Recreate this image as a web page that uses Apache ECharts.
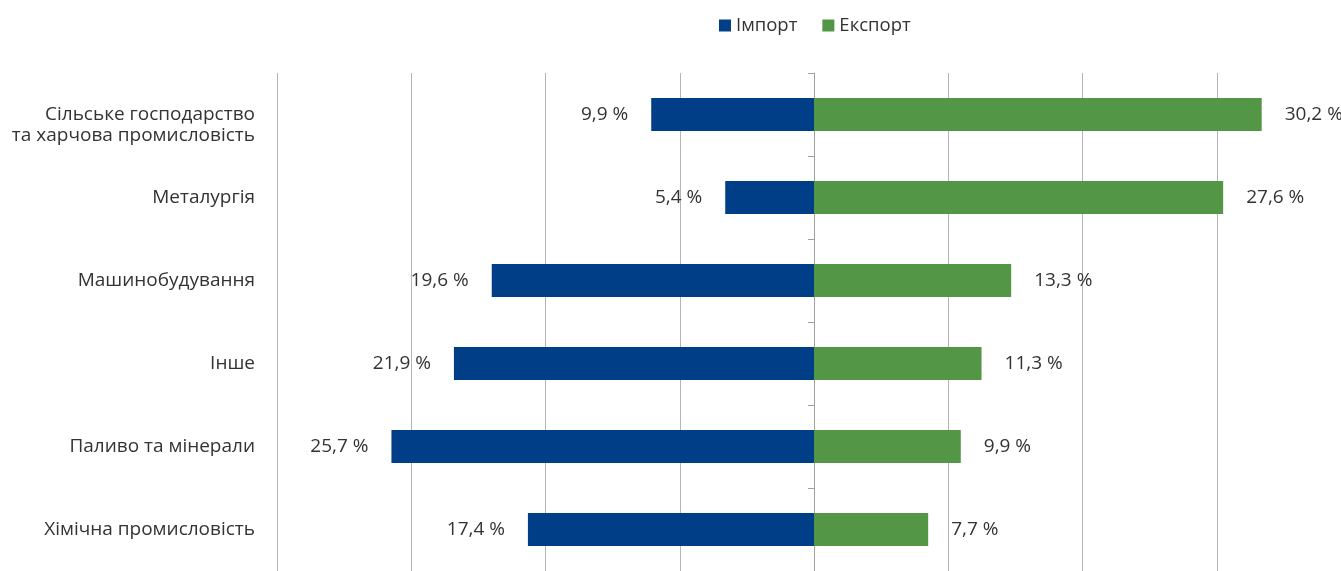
<!DOCTYPE html>
<html>
<head>
<meta charset="utf-8">
<script src="https://cdn.jsdelivr.net/npm/echarts@6/dist/echarts.min.js"></script>
<style>
html,body{margin:0;padding:0;background:#fff;}
#chart{width:1341px;height:571px;}
</style>
</head>
<body>
<div id="chart"></div>
<script>
const categories = [
  'Сільське господарство\nта харчова промисловість',
  'Металургія',
  'Машинобудування',
  'Інше',
  'Паливо та мінерали',
  'Хімічна промисловість'
];
const importValues = [9.9, 5.4, 19.6, 21.9, 25.7, 17.4];
const exportValues = [30.2, 27.6, 13.3, 11.3, 9.9, 7.7];
const seriesNames = ['Імпорт', 'Експорт'];

const FONT = '"Open Sans", "Noto Sans", sans-serif';
const TXT = '#333333';
const FS = 19;
const fmt = v => Math.abs(v).toFixed(1).replace('.', ',') + ' %';

const chart = echarts.init(document.getElementById('chart'), null, {renderer: 'canvas'});
chart.setOption({
  animation: false,
  backgroundColor: '#ffffff',
  textStyle: {fontFamily: FONT},
  legend: {
    left: 714, top: 11,
    icon: 'rect', itemWidth: 12, itemHeight: 12, itemGap: 25,
    textStyle: {fontFamily: FONT, fontSize: 18.5, color: TXT},
    data: seriesNames
  },
  grid: {left: 277, right: 0, top: 73, height: 500, containLabel: false},
  xAxis: [
    {type: 'value', min: -32.66, max: 32.05, show: false, splitLine: {show: false}},
    {type: 'value', min: -36.23, max: 35.55, interval: 9.0575,
     axisLine: {show: false}, axisTick: {show: false}, axisLabel: {show: false},
     splitLine: {show: true, lineStyle: {color: '#b5b5b5', width: 1}}}
  ],
  yAxis: [
    {type: 'category', data: categories, inverse: true, position: 'left',
     axisLine: {show: false}, axisTick: {show: false},
     axisLabel: {fontFamily: FONT, fontSize: FS, color: TXT, margin: 22, lineHeight: 21, align: 'right',
                 formatter: v => v.indexOf('\n') >= 0 ? '\n' + v : v}},
    {type: 'category', data: categories, inverse: true, position: 'right',
     axisLine: {show: true, onZero: true, onZeroAxisIndex: 1, lineStyle: {color: '#a0a0a0', width: 1}},
     axisTick: {show: true, inside: true, length: 6, lineStyle: {color: '#a0a0a0'}},
     axisLabel: {show: false}}
  ],
  series: [
    {name: seriesNames[0], type: 'bar', xAxisIndex: 0, yAxisIndex: 0,
     data: importValues.map(v => -v), barWidth: 33, barGap: '-100%',
     itemStyle: {color: '#003f87'},
     label: {show: true, position: 'left', distance: 23, formatter: p => fmt(p.value),
             fontFamily: FONT, fontSize: FS, color: TXT}},
    {name: seriesNames[1], type: 'bar', xAxisIndex: 1, yAxisIndex: 0,
     data: exportValues, barWidth: 33, barGap: '-100%',
     itemStyle: {color: '#529646'},
     label: {show: true, position: 'right', distance: 23, formatter: p => fmt(p.value),
             fontFamily: FONT, fontSize: FS, color: TXT}}
  ]
});
</script>
</body>
</html>
